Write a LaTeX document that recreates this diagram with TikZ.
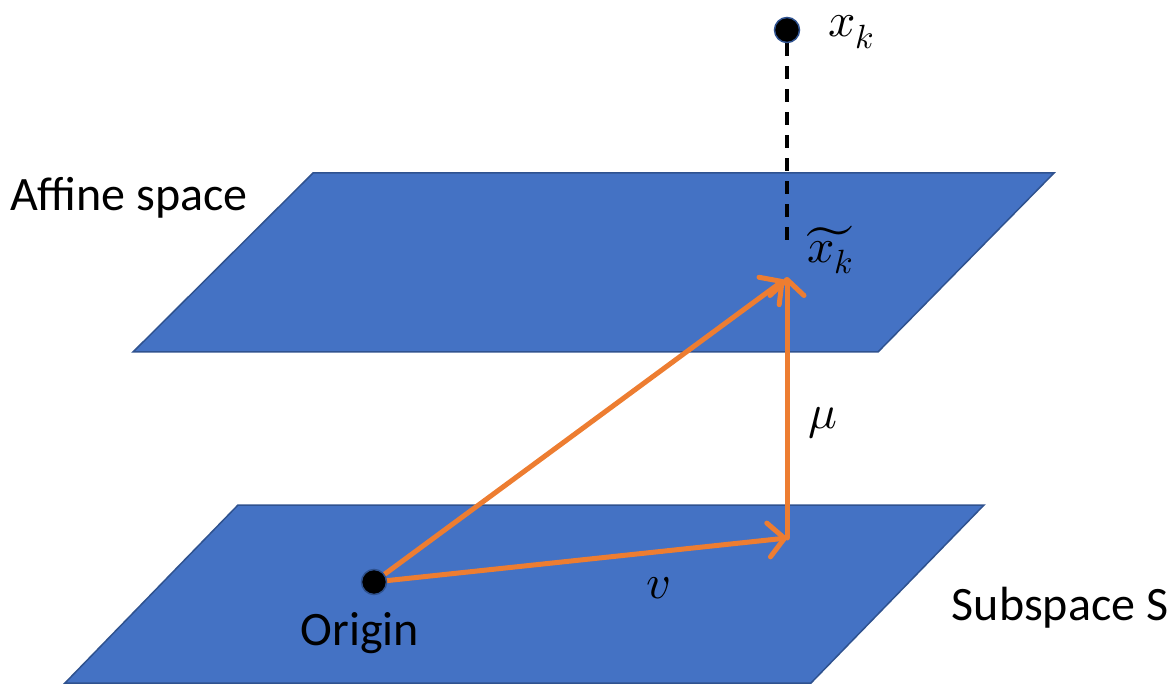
\documentclass[tikz,border=0pt]{standalone}
\usepackage{amsmath}
\usepackage{unicode-math}
\setmainfont{Carlito}
\setmathfont{Latin Modern Math}
\usepackage{xcolor}
\usepackage{tikz}
\usetikzlibrary{backgrounds,positioning,arrows.meta,calc}

\definecolor{planeblue}{HTML}{4472C4}
\definecolor{planeedge}{HTML}{2F528F}
\definecolor{vecorange}{HTML}{ED7D31}

\begin{document}
\begin{tikzpicture}[
    x=1pt, y=-1pt,
    plane/.style={fill=planeblue, draw=planeedge, line width=1.5pt, line join=miter},
    pt/.style={circle, fill=black, draw=planeedge, line width=1.5pt, minimum size=25pt, inner sep=0pt},
    vec/.style={vecorange, line width=5pt, line cap=round, line join=round,
        -{Straight Barb[length=16pt, width=34pt, line cap=round, line join=round]}},
    projline/.style={black, line width=4pt, dash pattern=on 13pt off 10pt},
    lbl/.style={inner sep=0pt, font=\fontsize{48}{58}\selectfont},
]
\useasboundingbox (0,0) rectangle (1175,684);

% Points
\node[pt] (xk) at (787,30) {};
\node[pt] (origin) at (374,582) {};
\coordinate (xproj) at (787,277);
\coordinate (vend) at (787,538);
\coordinate (dashend) at (787,243);

% Labels
\node[lbl] (xklbl) at (851,32) {$x_k$};
\node[lbl] (xprojlbl) at (830,250) {$\widetilde{x_k}$};
\node[lbl] (mulbl) at (823,423) {$\mu$};
\node[lbl] (vlbl) at (658,588) {$v$};
\node[lbl] (originlbl) at (360,633) {Origin};
\node[lbl] (affinelbl) at (129,198) {Affine space};
\node[lbl] (subspacelbl) at (1060,608) {Subspace S};

\begin{scope}[on background layer]
% Planes
\draw[plane] (313,173) -- (1054,173) -- (878,352) -- (133,352) -- cycle;
\draw[plane] (238,505) -- (984,505) -- (811,683) -- (65,683) -- cycle;

% Projection
\draw[projline] (xk.south) -- (dashend);

% Vectors
\draw[vec] (origin.center) -- (vend);
\draw[vec] (vend) -- (xproj);
\draw[vec] (origin.center) -- ($(xproj)+(-3,3)$);
\end{scope}

\end{tikzpicture}
\end{document}
